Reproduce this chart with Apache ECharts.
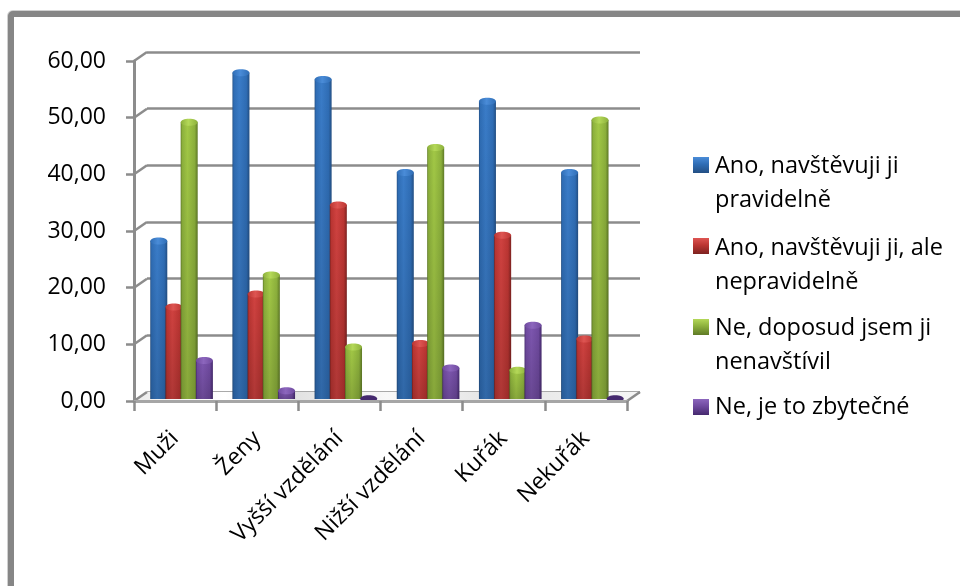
<!DOCTYPE html>
<html>
<head>
<meta charset="utf-8">
<style>html,body{margin:0;padding:0;background:#fff}#chart{width:960px;height:586px}</style>
<script src="https://cdn.jsdelivr.net/npm/echarts@6/dist/echarts.min.js"></script>
</head>
<body>
<div id="chart"></div>
<script>
const categories = ['Muži', 'Ženy', 'Vyšší vzdělání', 'Nižší vzdělání', 'Kuřák', 'Nekuřák'];
const regular = [28, 57.5, 56.3, 40, 52.5, 40];
const irregular = [16.4, 18.7, 34.3, 10, 29, 10.8];
const notYet = [48.8, 22, 9.4, 44.4, 5.3, 49.2];
const needless = [7, 1.7, 0.3, 5.7, 13.2, 0.3];
const seriesNames = [
  'Ano, navštěvuji ji pravidelně',
  'Ano, navštěvuji ji, ale nepravidelně',
  'Ne, doposud jsem ji nenavštívil',
  'Ne, je to zbytečné'
];
const wrappedNames = [
  'Ano, navštěvuji ji\npravidelně',
  'Ano, navštěvuji ji, ale\nnepravidelně',
  'Ne, doposud jsem ji\nnenavštívil',
  'Ne, je to zbytečné'
];
const palettes = [
  {edge: '#234f84', body: '#2f6db5', light: '#3a7cc8', cap: '#4a8cd8'},
  {edge: '#7d2220', body: '#bb3532', light: '#d04240', cap: '#de5552'},
  {edge: '#5f7a26', body: '#8cb03c', light: '#a2c846', cap: '#b4d858'},
  {edge: '#45296e', body: '#6f4a9f', light: '#7d56af', cap: '#8c66bd'}
];
const FONT = '"Open Sans", "Noto Sans", sans-serif';
const AXIS_GREY = '#8c8c8c';
const DEPTH_X = 13, DEPTH_Y = -9;
const BAR_W = 17, BAR_PITCH = 15.2, BAR_FOOT = 2;

function barItem(seriesIndex, palette) {
  return function (params, api) {
    const x0 = api.coord([api.value(0), 0]);
    const top = api.coord([api.value(0), api.value(1)]);
    const cx = x0[0] + (seriesIndex - 1.5) * BAR_PITCH;
    const left = cx - BAR_W / 2;
    const capH = 3.5;
    const h = Math.max(x0[1] + BAR_FOOT - top[1] - capH, 0);
    const lateral = new echarts.graphic.LinearGradient(0, 0, 1, 0, [
      {offset: 0, color: palette.edge},
      {offset: 0.08, color: palette.body},
      {offset: 0.4, color: palette.light},
      {offset: 0.82, color: palette.body},
      {offset: 1, color: palette.edge}
    ]);
    const fade = new echarts.graphic.LinearGradient(0, 0, 0, 1, [
      {offset: 0, color: 'rgba(0,0,0,0)'},
      {offset: 1, color: 'rgba(0,0,0,0.16)'}
    ]);
    const capFill = new echarts.graphic.LinearGradient(0, 0, 1, 0, [
      {offset: 0, color: palette.body},
      {offset: 0.45, color: palette.cap},
      {offset: 1, color: palette.body}
    ]);
    // A bar that barely rises above the floor only shows as a dark disc
    const flat = api.value(1) < 1;
    return {
      type: 'group',
      children: [
        {type: 'rect', shape: {x: left, y: top[1] + capH, width: BAR_W, height: h}, style: {fill: flat ? palette.edge : lateral}},
        {type: 'rect', shape: {x: left, y: top[1] + capH, width: BAR_W, height: h}, style: {fill: flat ? 'rgba(0,0,0,0)' : fade}},
        {type: 'ellipse', shape: {cx: cx, cy: top[1] + capH, rx: BAR_W / 2, ry: capH}, style: {fill: flat ? palette.edge : capFill}}
      ]
    };
  };
}

const barSeries = [regular, irregular, notYet, needless].map((vals, i) => ({
  type: 'custom',
  name: seriesNames[i],
  xAxisIndex: 2,
  yAxisIndex: 2,
  z: 5,
  renderItem: barItem(i, palettes[i]),
  encode: {x: 0, y: 1},
  data: vals.map((v, k) => [k, v]),
  itemStyle: {color: palettes[i].body}
}));

// Receding floor and the short connectors from the front axis ticks to the back wall
const tickValues = [0, 10, 20, 30, 40, 50, 60];
const depthSeries = {
  type: 'custom',
  xAxisIndex: 0,
  yAxisIndex: 0,
  silent: true,
  z: 1,
  clip: false,
  renderItem: function (params, api) {
    const v = api.value(1);
    const band = api.size([1, 0])[0];
    const first = api.coord([0, v]);
    const last = api.coord([categories.length - 1, v]);
    const p = [first[0] - band / 2, first[1]];
    const q = [last[0] + band / 2, last[1]];
    const kids = [{
      type: 'line',
      shape: {x1: p[0], y1: p[1], x2: p[0] + DEPTH_X, y2: p[1] + DEPTH_Y},
      style: {stroke: AXIS_GREY, lineWidth: 2.5}
    }];
    if (v === 0) {
      kids.unshift({
        type: 'polygon',
        shape: {points: [p, [p[0] + DEPTH_X, p[1] + DEPTH_Y], [q[0] + DEPTH_X, q[1] + DEPTH_Y], q]},
        style: {
          fill: new echarts.graphic.LinearGradient(0, 0, 1, 0, [
            {offset: 0, color: '#ececec'}, {offset: 0.18, color: '#ffffff'},
            {offset: 0.32, color: '#e2e2e2'}, {offset: 0.5, color: '#f8f8f8'},
            {offset: 0.72, color: '#e4e4e4'}, {offset: 1, color: '#f6f6f6'}
          ])
        }
      });
      kids.push({
        type: 'line',
        shape: {x1: q[0], y1: q[1], x2: q[0] + DEPTH_X, y2: q[1] + DEPTH_Y},
        style: {stroke: AXIS_GREY, lineWidth: 2.5}
      });
    }
    return {type: 'group', children: kids};
  },
  encode: {x: 0, y: 1},
  data: tickValues.map(v => [0, v])
};

// One legend box per entry, so each marker can sit beside the first line of its label
const legendTops = [149.5, 231, 311.5, 390.5];
const markerOffsets = [7.5, 7, 7.5, 8.5];
const legends = seriesNames.map((name, i) => {
  const twoLines = wrappedNames[i].includes('\n');
  const boxH = twoLines ? 68 : 34;
  const markerTop = markerOffsets[i];
  return {
    left: 693,
    top: legendTops[i],
    orient: 'vertical',
    padding: 0,
    itemWidth: 16,
    itemHeight: boxH,
    itemGap: 0,
    selectedMode: false,
    data: [{
      name: name,
      icon: 'path://M0 0H16 M0 ' + markerTop + 'H16V' + (markerTop + 16) + 'H0Z M0 ' + boxH + 'H16',
      itemStyle: {
        color: new echarts.graphic.LinearGradient(0, markerTop / boxH, 0, (markerTop + 16) / boxH, [
          {offset: 0, color: palettes[i].cap},
          {offset: 0.45, color: palettes[i].body},
          {offset: 1, color: palettes[i].edge}
        ])
      }
    }],
    formatter: () => wrappedNames[i],
    textStyle: {fontFamily: FONT, fontSize: 23.5, lineHeight: 34, color: '#000', padding: [0, 0, 0, 1]}
  };
});

const chart = echarts.init(document.getElementById('chart'), null, {renderer: 'canvas'});
chart.setOption({
  animation: false,
  backgroundColor: '#fff',
  graphic: [
    {type: 'rect', z: -11, shape: {x: 11, y: 14, width: 1000, height: 640, r: 2},
     style: {fill: '#fff', stroke: '#d0d0d0', lineWidth: 8}},
    {type: 'rect', z: -10, shape: {x: 11, y: 14, width: 1000, height: 640, r: 2},
     style: {fill: '#fff', stroke: '#868686', lineWidth: 6}}
  ],
  legend: legends,
  grid: [
    {left: 134, top: 61, width: 493, height: 340},
    {left: 147, top: 52, width: 493, height: 340},
    {left: 140.5, top: 55, width: 493, height: 342}
  ],
  xAxis: [
    {
      gridIndex: 0, type: 'category', data: categories, z: 6,
      axisLine: {lineStyle: {color: '#a6a6a6', width: 3}},
      axisTick: {show: true, alignWithLabel: false, length: 10, lineStyle: {color: AXIS_GREY, width: 2.5}},
      axisLabel: {rotate: 45, interval: 0, margin: 34, fontFamily: FONT, fontSize: 23, color: '#000'}
    },
    {gridIndex: 1, type: 'category', data: categories, show: false},
    {gridIndex: 2, type: 'category', data: categories, show: false}
  ],
  yAxis: [
    {
      gridIndex: 0, type: 'value', min: 0, max: 60, interval: 10, z: 6,
      axisLine: {show: true, lineStyle: {color: AXIS_GREY, width: 3}},
      axisTick: {show: true, length: 8, lineStyle: {color: AXIS_GREY, width: 2.5}},
      axisLabel: {margin: 28, padding: [3, 0, 0, 0], fontFamily: FONT, fontSize: 23, color: '#000', formatter: v => v.toFixed(2).replace('.', ',')},
      splitLine: {show: false}
    },
    {
      gridIndex: 1, type: 'value', min: 0, max: 60, interval: 10,
      axisLine: {show: false}, axisTick: {show: false}, axisLabel: {show: false},
      splitLine: {show: true, lineStyle: {color: AXIS_GREY, width: 2.5}}
    },
    {gridIndex: 2, type: 'value', min: 0, max: 60, interval: 10, show: false}
  ],
  series: [depthSeries].concat(barSeries)
});
</script>
</body>
</html>
